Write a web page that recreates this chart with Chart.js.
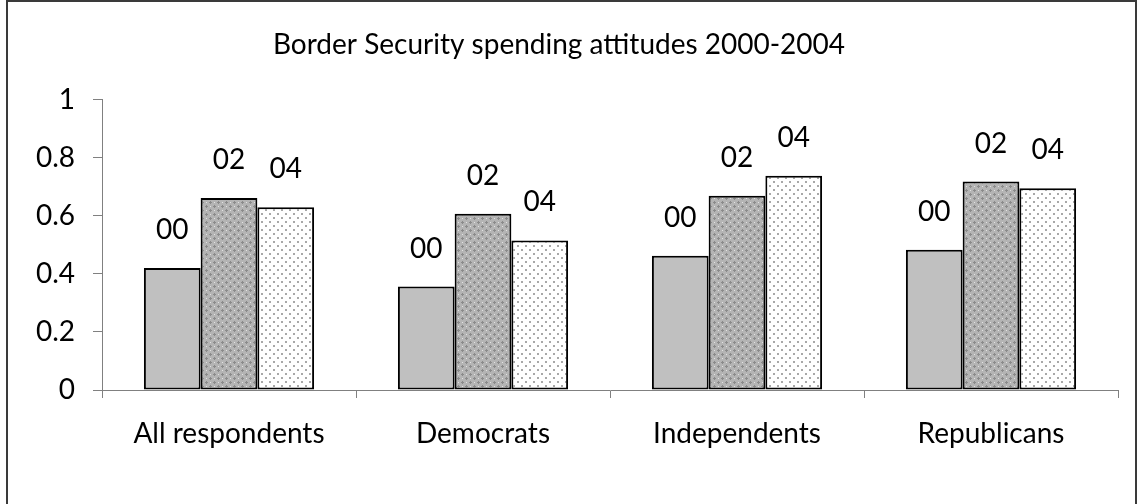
<!DOCTYPE html>
<html>
<head>
<meta charset="utf-8">
<title>Border Security spending attitudes 2000-2004</title>
<script src="https://cdn.jsdelivr.net/npm/chart.js@4.4.1/dist/chart.umd.min.js"></script>
<style>
    html, body { margin: 0; padding: 0; background: #fff; }
    #wrap { position: relative; width: 1138px; height: 504px; overflow: hidden; }
    /* outer frame of the original sheet, bottom edge falls outside the picture */
    #frame {
        position: absolute; left: 6px; top: 0; width: 1131px; height: 540px;
        box-sizing: border-box; border: 2px solid #3a3a3a; border-bottom: none;
    }
    #chart { position: absolute; left: 0; top: 0; }
</style>
</head>
<body>
<div id="wrap">
    <div id="frame"></div>
    <canvas id="chart" width="1138" height="504"></canvas>
</div>
<script>
// Data
const categories = ['All respondents', 'Democrats', 'Independents', 'Republicans'];
const seriesNames = ['00', '02', '04'];
const values00 = [0.42, 0.356, 0.462, 0.483];
const values02 = [0.661, 0.607, 0.669, 0.718];
const values04 = [0.629, 0.515, 0.738, 0.695];
const yTicks = [0, 0.2, 0.4, 0.6, 0.8, 1];

const FONT = 'Lato, "Open Sans", sans-serif';

// Small tiled fills that mimic the old Excel pattern fills
function makePattern(size, paint) {
    const c = document.createElement('canvas');
    c.width = size;
    c.height = size;
    paint(c.getContext('2d'));
    return document.getElementById('chart').getContext('2d').createPattern(c, 'repeat');
}

const crossPattern = makePattern(8, g => {
    g.fillStyle = '#b4b4b4';
    g.fillRect(0, 0, 8, 8);
    g.fillStyle = '#8a8a8a';
    [[2, 2], [6, 6]].forEach(([x, y]) => {
        g.fillRect(x - 1, y, 3, 1);
        g.fillRect(x, y - 1, 1, 3);
    });
    g.fillStyle = '#e2e2e2';
    g.fillRect(6, 2, 1, 1);
    g.fillRect(2, 6, 1, 1);
});

const dotPattern = makePattern(8, g => {
    g.fillStyle = '#ffffff';
    g.fillRect(0, 0, 8, 8);
    g.fillStyle = '#a8a8a8';
    g.fillRect(1, 1, 2, 2);
    g.fillRect(5, 5, 2, 2);
});

// Writes the series name above each bar
const seriesLabels = {
    id: 'seriesLabels',
    afterDatasetsDraw(chart) {
        const ctx = chart.ctx;
        ctx.save();
        ctx.font = '28px ' + FONT;
        ctx.fillStyle = '#000';
        ctx.textAlign = 'center';
        ctx.textBaseline = 'middle';
        chart.data.datasets.forEach((ds, i) => {
            chart.getDatasetMeta(i).data.forEach(bar => {
                ctx.fillText(ds.label, bar.x, bar.y - 38);
            });
        });
        ctx.restore();
    }
};

const barStyle = {
    borderColor: '#000',
    borderWidth: 2,
    borderSkipped: false,
    categoryPercentage: 0.67,
    barPercentage: 1.0
};

new Chart(document.getElementById('chart'), {
    type: 'bar',
    data: {
        labels: categories,
        datasets: [
            { label: seriesNames[0], data: values00, backgroundColor: '#c0c0c0', ...barStyle },
            { label: seriesNames[1], data: values02, backgroundColor: crossPattern, ...barStyle },
            { label: seriesNames[2], data: values04, backgroundColor: dotPattern, ...barStyle }
        ]
    },
    options: {
        responsive: false,
        animation: false,
        layout: { padding: { left: 0, right: 20, top: 0, bottom: 0 } },
        plugins: {
            legend: { display: false },
            tooltip: { enabled: false },
            title: {
                display: true,
                text: 'Border Security spending attitudes 2000-2004',
                color: '#000',
                font: { family: FONT, size: 28, weight: 'normal' },
                padding: { top: 28, bottom: 38 }
            }
        },
        scales: {
            x: {
                afterFit: s => { s.height = 114; },
                grid: { offset: true, drawOnChartArea: false, tickLength: 8, color: '#808080' },
                border: { color: '#808080', width: 1 },
                ticks: { color: '#000', padding: 19, font: { family: FONT, size: 28 } }
            },
            y: {
                min: 0,
                max: 1,
                afterFit: s => { s.width = 102; },
                afterBuildTicks: s => { s.ticks = yTicks.map(v => ({ value: v })); },
                grid: { drawOnChartArea: false, tickLength: 9, color: '#808080' },
                border: { color: '#808080', width: 1 },
                ticks: {
                    color: '#000',
                    padding: 18,
                    font: { family: FONT, size: 28 },
                    callback: v => String(v)
                }
            }
        }
    },
    plugins: [seriesLabels]
});
</script>
</body>
</html>
